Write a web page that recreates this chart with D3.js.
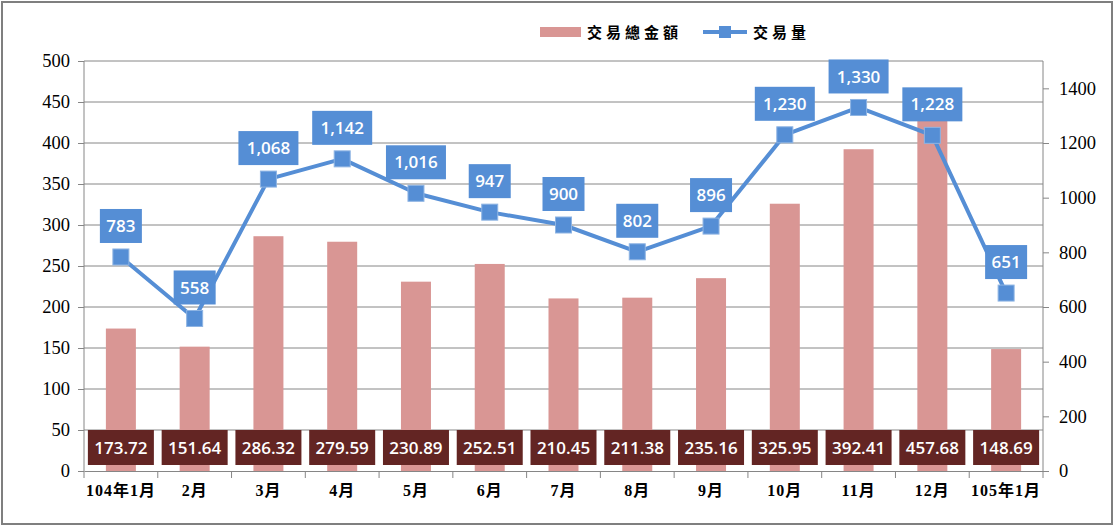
<!DOCTYPE html>
<html><head><meta charset="utf-8">
<script src="https://cdn.jsdelivr.net/npm/d3@7"></script>
<style>body{margin:0;background:#fff}</style>
</head><body>
<svg id="c" width="1117" height="528"></svg>
<script>
const categories = ["104年1月","2月","3月","4月","5月","6月","7月","8月","9月","10月","11月","12月","105年1月"];
const amounts = [173.72,151.64,286.32,279.59,230.89,252.51,210.45,211.38,235.16,325.95,392.41,457.68,148.69];
const volumes = [783,558,1068,1142,1016,947,900,802,896,1230,1330,1228,651];
const leftTicks = [0,50,100,150,200,250,300,350,400,450,500];
const rightTicks = [0,200,400,600,800,1000,1200,1400];
const seriesNames = ["交易總金額","交易量"];

const svg = d3.select("#c");
const L = 84, R = 1043, T = 61, B = 471;
const barColor = "#D99694", lineColor = "#558ED5", labelDark = "#632523";
const serif = "'Liberation Serif', 'DejaVu Serif', serif";
const cjk = "'Liberation Serif', 'DejaVu Serif', 'Noto Sans CJK TC', serif";

svg.append("rect").attr("x",2).attr("y",2).attr("width",1110).attr("height",522)
  .attr("fill","#fff").attr("stroke","#7f7f7f").attr("stroke-width",2);

const x = d3.scaleBand().domain(categories).range([L,R]).paddingInner(0).paddingOuter(0);
const yL = d3.scaleLinear().domain([0,500]).range([B,T]);
const yR = d3.scaleLinear().domain([0,1500]).range([B,T]);

// gridlines
svg.append("g").selectAll("line").data(leftTicks.filter(d=>d>0)).join("line")
  .attr("x1",L).attr("x2",R).attr("y1",d=>yL(d)).attr("y2",d=>yL(d))
  .attr("stroke","#868686").attr("stroke-width",1);

// bars
svg.append("g").selectAll("rect").data(amounts).join("rect")
  .attr("x",(d,i)=>x(categories[i])+x.bandwidth()/2-15).attr("width",30)
  .attr("y",d=>yL(d)).attr("height",d=>B-yL(d)).attr("fill",barColor);

function styleTicks(g){
  g.attr("font-family",null).attr("font-size",null);
  g.selectAll("text").style("font-family",serif).style("font-size","18.5px").style("fill","#000");
  g.selectAll("path,line").attr("stroke","#868686");
}
// left axis
const gl = svg.append("g").attr("transform",`translate(${L},0)`)
  .call(d3.axisLeft(yL).tickValues(leftTicks).tickSize(6).tickPadding(8));
styleTicks(gl);
gl.select(".domain").attr("d",`M0,${T}V${B}`);

// right axis
const gr = svg.append("g").attr("transform",`translate(${R},0)`)
  .call(d3.axisRight(yR).tickValues(rightTicks).tickSize(6).tickPadding(10).tickFormat(d3.format("d")));
styleTicks(gr);
gr.select(".domain").attr("d",`M0,${T}V${B}`);

// bottom axis
const gb = svg.append("g").attr("transform",`translate(0,${B})`)
  .call(d3.axisBottom(x).tickSize(0).tickPadding(14));
gb.attr("font-family",null).attr("font-size",null);
gb.select(".domain").attr("stroke","#868686");
gb.selectAll("text").style("font-family",cjk).style("font-size","16px").style("font-weight","bold")
  .style("fill","#000").style("letter-spacing","1px");
svg.append("g").selectAll("line").data(d3.range(categories.length+1)).join("line")
  .attr("x1",i=>L+i*x.step()).attr("x2",i=>L+i*x.step()).attr("y1",B).attr("y2",B+7)
  .attr("stroke","#868686");

// bar labels
const bl = svg.append("g").selectAll("g").data(amounts).join("g")
  .attr("transform",(d,i)=>`translate(${x(categories[i])+x.bandwidth()/2},${yL(0)-23})`);
bl.append("rect").attr("x",-33).attr("y",-18).attr("width",66).attr("height",35).attr("fill",labelDark);
bl.append("text").attr("text-anchor","middle").attr("dy","0.36em")
  .attr("font-family","Open Sans, DejaVu Sans, sans-serif").attr("font-size",17).attr("font-weight","600")
  .attr("fill","#fff").text(d=>d3.format(".2f")(d));

// line
const cx = i => x(categories[i]) + x.bandwidth()/2;
svg.append("path").datum(volumes)
  .attr("d", d3.line().x((d,i)=>cx(i)).y(d=>yR(d)))
  .attr("fill","none").attr("stroke",lineColor).attr("stroke-width",4).attr("stroke-linejoin","round");
svg.append("g").selectAll("rect").data(volumes).join("rect")
  .attr("x",(d,i)=>cx(i)-8).attr("y",d=>yR(d)-8).attr("width",16).attr("height",16)
  .attr("fill",lineColor).attr("stroke","#8EB4E3").attr("stroke-width",1);

// line labels
const fmt = d3.format(",");
const ll = svg.append("g").selectAll("g").data(volumes).join("g")
  .attr("transform",(d,i)=>`translate(${cx(i)},${yR(d)-31})`);
ll.append("rect").attr("x",d=>fmt(d).length>3?-30:-21).attr("y",-17)
  .attr("width",d=>fmt(d).length>3?60:42).attr("height",34).attr("fill",lineColor);
ll.append("text").attr("text-anchor","middle").attr("dy","0.36em")
  .attr("font-family","Open Sans, DejaVu Sans, sans-serif").attr("font-size",17).attr("font-weight","600")
  .attr("fill","#fff").text(d=>fmt(d));

// legend
const lg = svg.append("g");
lg.append("rect").attr("x",540).attr("y",27).attr("width",41).attr("height",10).attr("fill",barColor);
lg.append("text").attr("x",587).attr("y",38).style("font-family",cjk).style("font-size","15px").style("font-weight","bold")
  .style("letter-spacing","4px").text(seriesNames[0]);
lg.append("line").attr("x1",703).attr("x2",747).attr("y1",32).attr("y2",32).attr("stroke",lineColor).attr("stroke-width",4);
lg.append("rect").attr("x",719).attr("y",26).attr("width",12).attr("height",12).attr("fill",lineColor);
lg.append("text").attr("x",753).attr("y",38).style("font-family",cjk).style("font-size","15px").style("font-weight","bold")
  .style("letter-spacing","4px").text(seriesNames[1]);
</script>
</body></html>
